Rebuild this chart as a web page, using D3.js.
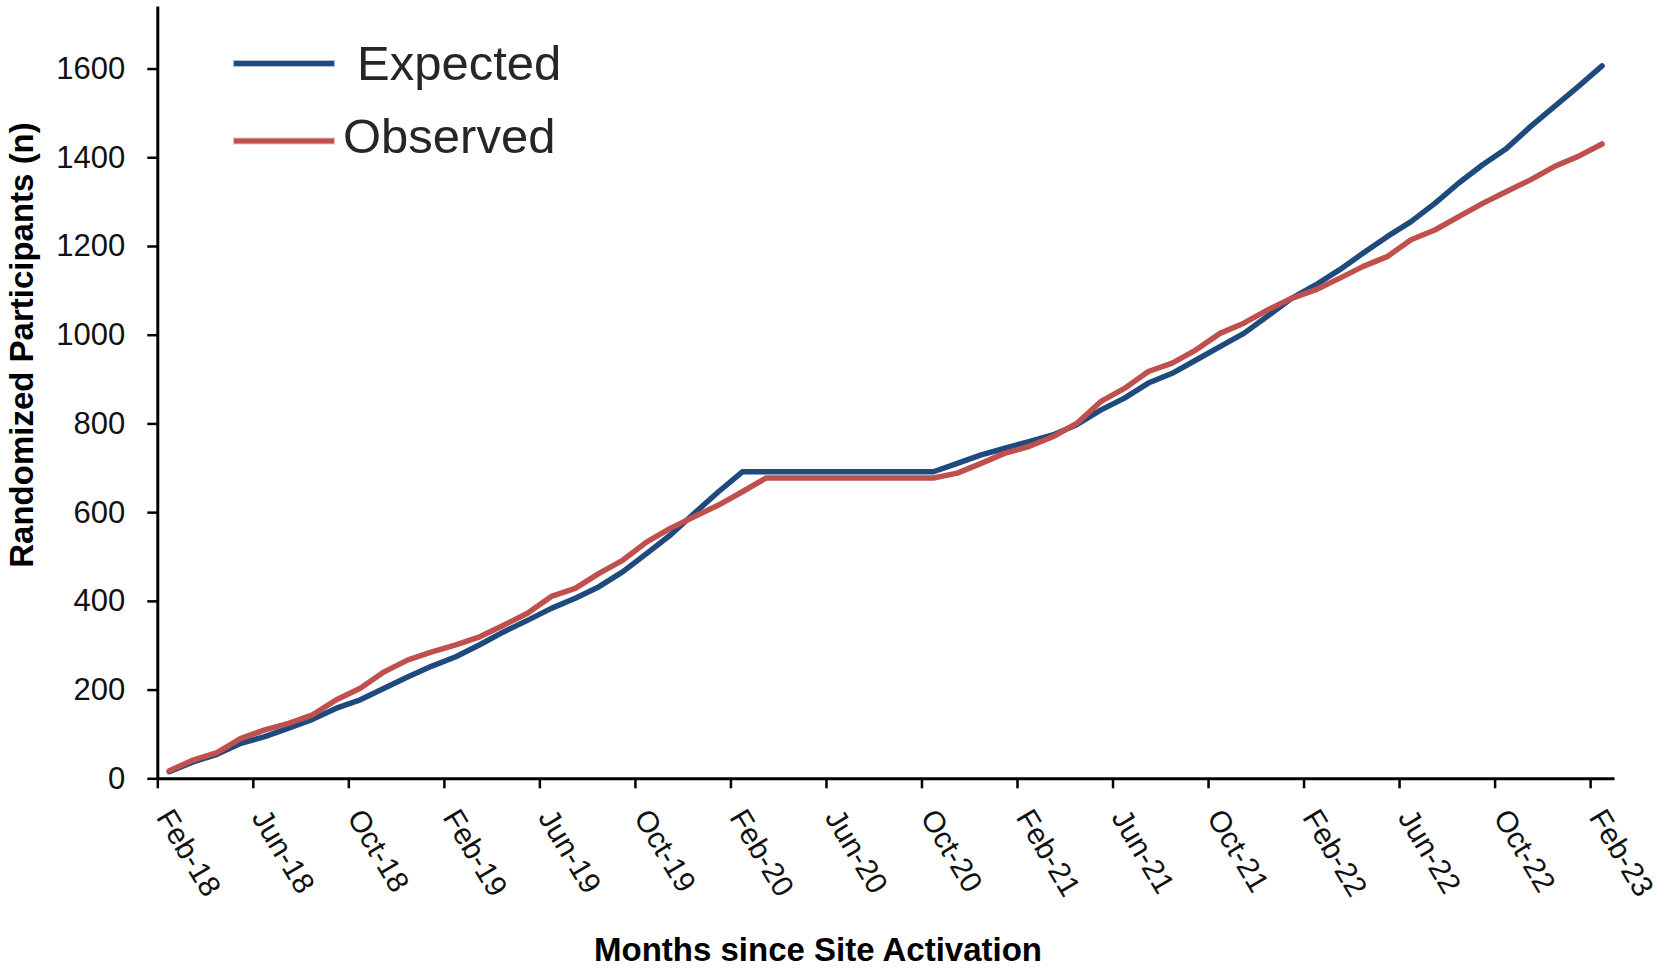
<!DOCTYPE html>
<html>
<head>
<meta charset="utf-8">
<script src="https://cdn.jsdelivr.net/npm/d3@7"></script>
<style>
  html, body { margin: 0; padding: 0; background: #fff; }
  svg { display: block; font-family: "Liberation Sans", Arial, sans-serif; }
</style>
</head>
<body>
<svg id="chart" width="1664" height="971"></svg>
<script>
// Month index 0 = Feb-18 ... 60 = Feb-23
const tickLabels = ["Feb-18","Jun-18","Oct-18","Feb-19","Jun-19","Oct-19","Feb-20","Jun-20","Oct-20","Feb-21","Jun-21","Oct-21","Feb-22","Jun-22","Oct-22","Feb-23"];
const tickMonths = [0,4,8,12,16,20,24,28,32,36,40,44,48,52,56,60];
const yTicks = [0,200,400,600,800,1000,1200,1400,1600];

const expected = [15,37,54,79,94,113,133,158,177,203,229,253,274,301,330,356,383,406,432,466,507,549,598,646,691,691,691,691,691,691,691,691,691,710,729,744,759,774,797,830,857,891,913,943,973,1003,1042,1082,1112,1146,1184,1221,1255,1296,1342,1383,1420,1469,1514,1559,1606];
const observed = [17,41,58,90,109,124,143,177,203,240,267,285,301,319,345,372,410,428,462,492,533,564,590,616,646,677,677,677,677,677,677,677,677,688,710,733,748,770,800,849,879,917,936,966,1003,1026,1056,1082,1101,1127,1154,1176,1214,1236,1266,1296,1323,1349,1379,1402,1430];

const seriesNames = ["Expected","Observed"];
const seriesColors = ["#1F4A7E","#C0504D"];

const svg = d3.select("#chart");
const x = d3.scaleLinear().domain([0, 61]).range([157.3, 1614]);
const y = d3.scaleLinear().domain([0, 1741]).range([778.3, 6]);

// Y axis
const yAxis = svg.append("g")
  .attr("transform", `translate(${x(0)},0)`)
  .call(d3.axisLeft(y).tickValues(yTicks).tickFormat(d3.format("d")).tickSize(10).tickSizeOuter(0).tickPadding(22));
yAxis.select(".domain").attr("stroke", "#000").attr("stroke-width", 3);
yAxis.selectAll(".tick line").attr("stroke", "#000").attr("stroke-width", 2.5);
yAxis.selectAll(".tick text").attr("font-size", 31).attr("fill", "#111")
  .attr("font-family", "Liberation Sans, Arial, sans-serif");

// X axis
const xAxis = svg.append("g")
  .attr("transform", `translate(0,${y(0)})`)
  .call(d3.axisBottom(x).tickValues(tickMonths).tickFormat((d, i) => tickLabels[i]).tickSize(10).tickSizeOuter(0));
xAxis.select(".domain").attr("stroke", "#000").attr("stroke-width", 3);
xAxis.selectAll(".tick line").attr("stroke", "#000").attr("stroke-width", 2.5);
xAxis.selectAll(".tick text")
  .attr("font-size", 30).attr("fill", "#111")
  .attr("font-family", "Liberation Sans, Arial, sans-serif")
  .attr("text-anchor", "start")
  .attr("x", 0).attr("y", 0).attr("dy", "0.71em")
  .attr("transform", "translate(16,28) rotate(59)");

// Lines
const lineGen = d3.line().x((d, i) => x(i + 0.5)).y(d => y(d));
[expected, observed].forEach((data, k) => {
  svg.append("path")
    .datum(data)
    .attr("fill", "none")
    .attr("stroke", seriesColors[k])
    .attr("stroke-width", 5.5)
    .attr("stroke-linejoin", "round")
    .attr("stroke-linecap", "round")
    .attr("d", lineGen);
});

// Legend
const legend = svg.append("g");
const legendItems = [
  {name: seriesNames[0], color: seriesColors[0], ly: 63.5, ty: 80, tx: 357},
  {name: seriesNames[1], color: seriesColors[1], ly: 141, ty: 153, tx: 343}
];
legendItems.forEach(it => {
  legend.append("line").attr("x1", 233).attr("x2", 335).attr("y1", it.ly).attr("y2", it.ly)
    .attr("stroke", it.color).attr("stroke-width", 7).attr("stroke-opacity", 0.35);
  legend.append("line").attr("x1", 234).attr("x2", 334).attr("y1", it.ly).attr("y2", it.ly)
    .attr("stroke", it.color).attr("stroke-width", 5);
  legend.append("text").attr("x", it.tx).attr("y", it.ty)
    .attr("font-size", 49).attr("fill", "#262626").text(it.name);
});

// Axis titles
svg.append("text")
  .attr("transform", `translate(21,345) rotate(-90)`)
  .attr("text-anchor", "middle").attr("dominant-baseline", "central")
  .attr("font-size", 33).attr("font-weight", "bold").attr("fill", "#000")
  .text("Randomized Participants (n)");
svg.append("text")
  .attr("x", 818).attr("y", 961)
  .attr("text-anchor", "middle")
  .attr("font-size", 33).attr("font-weight", "bold").attr("fill", "#000")
  .text("Months since Site Activation");
</script>
</body>
</html>
